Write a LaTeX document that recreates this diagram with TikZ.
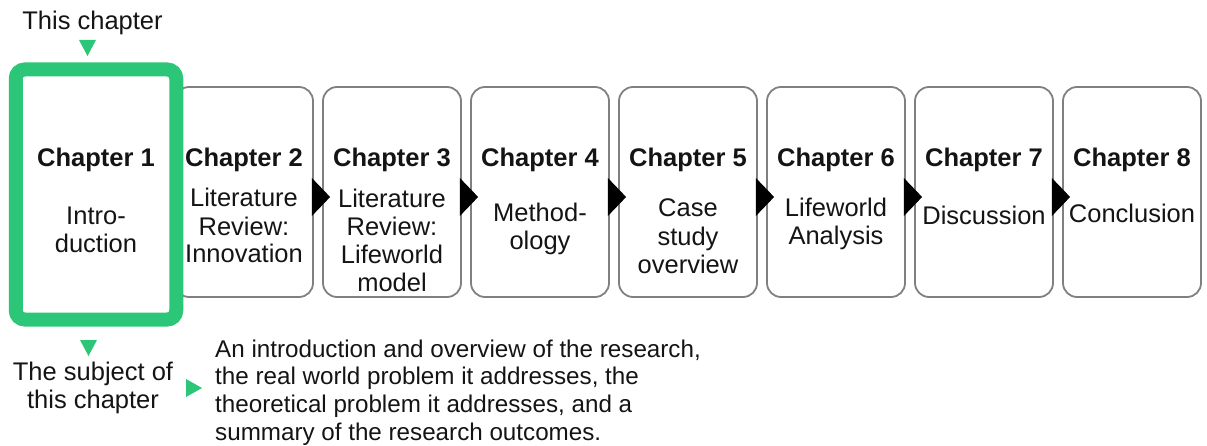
\documentclass[tikz,border=0pt]{standalone}
\usepackage{fontspec}
\setmainfont{Liberation Sans}
\usetikzlibrary{calc}
\definecolor{chgreen}{RGB}{44,198,120}
\definecolor{boxgray}{RGB}{128,128,128}
\definecolor{txt}{RGB}{20,20,20}
\begin{document}
\begin{tikzpicture}[x=1pt,y=-1pt,
  chbox/.style={draw=boxgray, line width=1.8pt, rounded corners=14pt, minimum width=138pt, minimum height=210pt, inner sep=0pt},
  head/.style={font=\fontsize{25.5}{28}\selectfont\bfseries, text=txt, anchor=base, inner sep=0pt},
  body/.style={font=\fontsize{25.5}{28}\selectfont, text=txt, align=center, anchor=base, inner sep=0pt},
  desc/.style={font=\fontsize{24.2}{27.6}\selectfont, text=txt, align=left, anchor=base west, inner sep=0pt},
  arrowtri/.style={fill=black},
  gtri/.style={fill=chgreen}]
\useasboundingbox (0,0) rectangle (1207,446);

% chapter boxes
\foreach \i/\x in {2/244,3/392,4/540,5/688,6/836,7/984,8/1132}
  \node[chbox] (c\i) at (\x,192) {};

% current chapter box
\node[draw=chgreen, line width=14pt, rounded corners=9pt, minimum width=160.5pt, minimum height=250pt, inner sep=0pt] (c1) at (96,194.5) {};

% headings
\node[head] (h1) at (96,167) {Chapter 1};
\foreach \i in {2,...,8}
  \node[head] (h\i) at (c\i.center |- 0,167) {Chapter \i};

% body texts (anchor base = baseline of last line)
\node[body] (b1) at (96,253) {Intro-\\duction};
\node[body] (b2) at (c2.center |- 0,263) {Literature\\Review:\\Innovation};
\node[body] (b3) at (c3.center |- 0,291) {Literature\\Review:\\Lifeworld\\model};
\node[body] (b4) at (c4.center |- 0,250) {Method-\\ology};
\node[body] (b5) at (c5.center |- 0,273) {Case\\study\\overview};
\node[body] (b6) at (c6.center |- 0,245) {Lifeworld\\Analysis};
\node[body] (b7) at (c7.center |- 0,225) {Discussion};
\node[body] (b8) at (c8.center |- 0,223) {Conclusion};

% black arrow triangles between boxes
\foreach \a/\b in {c2/c3,c3/c4,c4/c5,c5/c6,c6/c7,c7/c8}
  \fill[arrowtri] ($(\a.east)+(-2,-14)$) -- ($(\b.west)+(8,5)$) -- ($(\a.east)+(-2,24)$) -- cycle;

% top label
\node[body] (this) at (92.5,30) {This chapter};
\fill[gtri] (79,40) -- (96,40) -- (87.5,56) -- cycle;

% bottom labels
\fill[gtri] (80,340) -- (97,340) -- (88.5,356) -- cycle;
\node[body] (subj) at (93,408) {The subject of\\this chapter};
\fill[gtri] (186,379) -- (202,388) -- (186,397) -- cycle;
\node[desc] (desc) at (215,440) {An introduction and overview of the research,\\the real world problem it addresses, the\\theoretical problem it addresses, and a\\summary of the research outcomes.};
\end{tikzpicture}
\end{document}
